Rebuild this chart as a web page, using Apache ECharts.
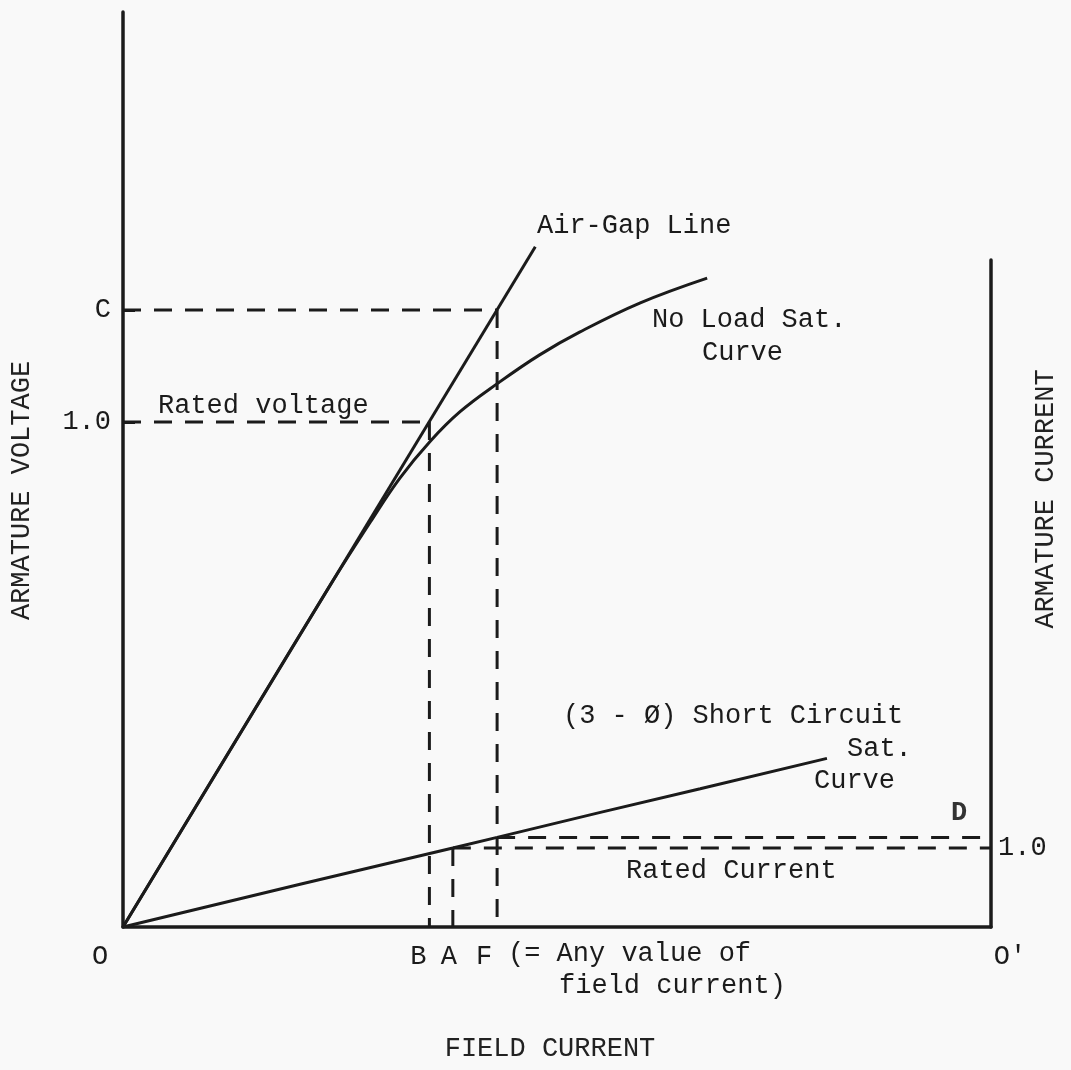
<!DOCTYPE html>
<html>
<head>
<meta charset="utf-8">
<script src="https://cdn.jsdelivr.net/npm/echarts@6/dist/echarts.min.js"></script>
</head>
<body style="margin:0;background:#f9f9f9">
<div id="chart" style="width:1071px;height:1070px"></div>
<script>
// ---- data (field current: O = 0, O' = 100; voltage / current in per-unit) ----
const noLoadField   = [0, 14.6, 23.8, 28.5, 31.9, 35.4, 38.8, 43.2, 48.0, 52.6, 59.6, 67.3];
const noLoadVoltage = [0, 0.415, 0.675, 0.802, 0.889, 0.962, 1.020, 1.077, 1.133, 1.178, 1.236, 1.285];
const airGapField   = [0, 47.5];
const airGapVoltage = [0, 1.347];
const shortCircuitField   = [0, 20.4, 38.0, 43.1, 55.0, 66.5, 81.1];
const shortCircuitCurrent = [0, 0.54, 1.0, 1.134, 1.45, 1.75, 2.134];
const ratedVoltage = 1.0;
const voltageC = 1.222;
const fieldB = 35.3;
const fieldA = 38.0;
const fieldF = 43.1;
const fieldMax = 100;
const ratedCurrent = 1.0;
const currentAtF = 1.134;
const voltageTicks = [ratedVoltage, voltageC];
const voltageTickLabels = ['1.0', 'C'];
const fieldTicks = [0, fieldB, fieldA, fieldF, fieldMax];
const fieldTickLabels = ['O', 'B', 'A', 'F', "O'"];
const currentTicks = [ratedCurrent];
const currentTickLabels = ['1.0'];

const zip = (xs, ys) => xs.map((x, i) => [x, ys[i]]);

const INK = '#1b1b1b';
const FONT = 'Liberation Mono, DejaVu Sans Mono, monospace';
const solid = { color: INK, width: 3, type: 'solid' };
const dashed = { color: INK, width: 3, type: [18, 13], cap: 'butt' };

function seg(name, data, style, grid) {
  return {
    name, type: 'line', data, xAxisIndex: grid, yAxisIndex: grid,
    showSymbol: false, symbol: 'none', lineStyle: style, silent: true,
    animation: false, z: 3
  };
}

const chart = echarts.init(document.getElementById('chart'), null, { renderer: 'canvas' });

const textStyle = (text, x, y, extra) => ({
  type: 'text', x, y, silent: true, z: 10,
  style: Object.assign({ text, font: '27px ' + FONT, fill: INK, align: 'left', verticalAlign: 'middle' }, extra || {})
});

const option = {
  backgroundColor: '#f9f9f9',
  animation: false,
  grid: [
    { left: 123, right: 80, top: 12, bottom: 143 },
    { left: 123, right: 80, top: 260, bottom: 143 }
  ],
  xAxis: [
    {
      type: 'value', gridIndex: 0, min: 0, max: fieldMax,
      axisLine: { show: true, onZero: false, lineStyle: { color: INK, width: 3.5 } },
      axisTick: { show: false },
      splitLine: { show: false },
      axisLabel: {
        show: true, customValues: fieldTicks, margin: 16,
        color: INK, fontFamily: FONT, fontSize: 27,
        formatter: v => {
          const i = fieldTicks.indexOf(v);
          const keys = ['o', 'b', 'a', 'f', 'op'];
          return '{' + keys[i] + '|' + fieldTickLabels[i] + '}';
        },
        rich: {
          o: { padding: [0, 46, 0, 0], fontFamily: FONT, fontSize: 27, color: INK },
          b: { padding: [0, 22, 0, 0], fontFamily: FONT, fontSize: 27, color: INK },
          a: { padding: [0, 8, 0, 0], fontFamily: FONT, fontSize: 27, color: INK },
          f: { padding: [0, 26, 0, 0], fontFamily: FONT, fontSize: 27, color: INK },
          op: { padding: [0, 0, 0, 38], fontFamily: FONT, fontSize: 27, color: INK }
        }
      },
      name: 'FIELD CURRENT', nameLocation: 'middle', nameGap: 108,
      nameTextStyle: { color: '#222', fontFamily: FONT, fontSize: 27, padding: [0, 14, 0, 0] }
    },
    { type: 'value', gridIndex: 1, min: 0, max: fieldMax, show: false }
  ],
  yAxis: [
    {
      type: 'value', gridIndex: 0, min: 0, max: 1.812, position: 'left',
      axisLine: { show: true, onZero: false, lineStyle: { color: INK, width: 3.5 } },
      axisTick: { show: true, inside: true, length: 12, customValues: voltageTicks, lineStyle: { color: INK, width: 3 } },
      splitLine: { show: false },
      axisLabel: {
        show: true, customValues: voltageTicks, margin: 12,
        color: INK, fontFamily: FONT, fontSize: 27,
        formatter: v => voltageTickLabels[voltageTicks.indexOf(v)]
      },
      name: 'ARMATURE VOLTAGE', nameLocation: 'middle', nameRotate: 90, nameGap: 88,
      nameTextStyle: { color: '#222', fontFamily: FONT, fontSize: 27, padding: [0, 42, 0, 0] }
    },
    {
      type: 'value', gridIndex: 1, min: 0, max: 8.44, position: 'right',
      axisLine: { show: true, onZero: false, lineStyle: { color: INK, width: 3.5 } },
      axisTick: { show: false },
      splitLine: { show: false },
      axisLabel: {
        show: true, customValues: currentTicks, margin: 7,
        color: INK, fontFamily: FONT, fontSize: 27,
        formatter: v => currentTickLabels[currentTicks.indexOf(v)]
      }
    }
  ],
  graphic: [
    textStyle('Air-Gap Line', 537, 226),
    textStyle('No Load Sat.', 652, 320),
    textStyle('Curve', 702, 353),
    textStyle('Rated voltage', 158, 406),
    textStyle('(3 - Ø) Short Circuit', 563, 716),
    textStyle('Sat.', 847, 749),
    textStyle('Curve', 814, 781),
    textStyle('D', 959, 813, { align: 'center', fill: '#333', font: 'bold 27px ' + FONT }),
    textStyle('Rated Current', 626, 871),
    textStyle('(= Any value of', 508, 954),
    textStyle('field current)', 559, 986),
    {
      type: 'text', x: 1046, y: 499, rotation: Math.PI / 2, silent: true,
      style: { text: 'ARMATURE CURRENT', font: '27px ' + FONT, fill: '#222', align: 'center', verticalAlign: 'middle' }
    }
  ],
  series: [
    seg('Air-Gap Line', zip(airGapField, airGapVoltage), solid, 0),
    Object.assign(seg('No Load Sat. Curve', zip(noLoadField, noLoadVoltage), solid, 0), { smooth: 0.4 }),
    seg('Rated voltage', [[0, ratedVoltage], [fieldB, ratedVoltage]], dashed, 0),
    seg('B', [[fieldB, ratedVoltage], [fieldB, 0]], dashed, 0),
    seg('C', [[0, voltageC], [fieldF, voltageC]], dashed, 0),
    seg('F', [[fieldF, voltageC], [fieldF, 0]], dashed, 0),
    seg('Short Circuit Sat. Curve', zip(shortCircuitField, shortCircuitCurrent), solid, 1),
    seg('A', [[fieldA, ratedCurrent], [fieldA, 0]], dashed, 1),
    seg('Rated Current', [[fieldA, ratedCurrent], [fieldMax, ratedCurrent]], dashed, 1),
    seg('Current at F', [[fieldF, currentAtF], [fieldMax, currentAtF]], dashed, 1)
  ]
};
chart.setOption(option);
</script>
</body>
</html>
